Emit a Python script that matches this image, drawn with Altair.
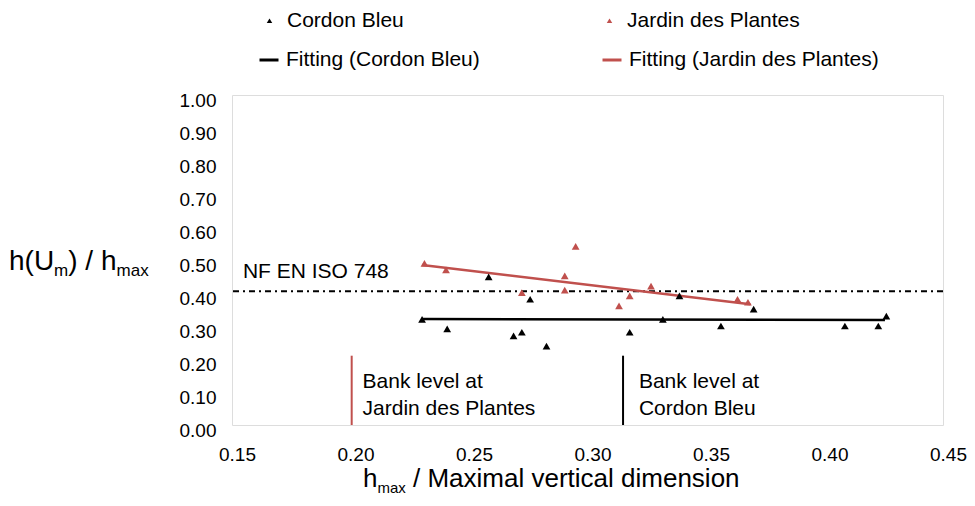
import altair as alt
import pandas as pd

# ---------------- data ----------------
cb_x = [0.2302, 0.2408, 0.2583, 0.2688, 0.2723, 0.2758, 0.2827, 0.3178,
        0.3318, 0.3388, 0.3563, 0.3701, 0.4086, 0.4227, 0.4261]
cb_y = [0.320, 0.291, 0.449, 0.270, 0.281, 0.381, 0.239, 0.281,
        0.320, 0.391, 0.300, 0.351, 0.300, 0.300, 0.330]
jp_x = [0.2312, 0.2403, 0.2723, 0.2904, 0.2904, 0.2950, 0.3133, 0.3178,
        0.3268, 0.3633, 0.3677]
jp_y = [0.490, 0.470, 0.401, 0.452, 0.409, 0.541, 0.361, 0.391,
        0.421, 0.381, 0.372]
fit_cb_x = [0.2302, 0.4255]
fit_cb_y = [0.321, 0.318]
fit_jp_x = [0.2302, 0.3687]
fit_jp_y = [0.485, 0.366]
iso_level = [0.405]
bank_jp = [0.2005]
bank_cb = [0.3150]
bank_top = [0.21]
x_ticks = [0.15, 0.20, 0.25, 0.30, 0.35, 0.40, 0.45]
y_ticks = [0.0, 0.1, 0.2, 0.3, 0.4, 0.5, 0.6, 0.7, 0.8, 0.9, 1.0]

point_names = ["Cordon Bleu", "Jardin des Plantes"]
fit_names = ["Fitting (Cordon Bleu)", "Fitting (Jardin des Plantes)"]

# ---------------- styling ----------------
FONT = "Liberation Sans, Arial, sans-serif"
RED = "#C0504D"
BLACK = "#000000"
W, H = 711, 330
PL, PT = 224, 87  # padding so plot sits at page (232, 95)

xscale = alt.Scale(domain=[0.15, 0.45], nice=False, zero=False)
yscale = alt.Scale(domain=[0.0, 1.0], nice=False, zero=False)
xaxis = alt.Axis(values=x_ticks, format=".2f", title=None, grid=False, ticks=False,
                 tickSize=0, domain=False, labelFontSize=19, labelFont=FONT,
                 labelColor="#000000", labelPadding=20, labelOffset=5,
                 labelFlush=False, labelOverlap=False)
yaxis = alt.Axis(values=y_ticks, format=".2f", title=None, grid=False, ticks=False,
                 tickSize=0, domain=False, labelFontSize=19, labelFont=FONT,
                 labelColor="#000000", labelPadding=16, labelOffset=5,
                 labelFlush=False, labelOverlap=False)

pts = pd.DataFrame({
    "x": cb_x + jp_x,
    "y": cb_y + jp_y,
    "series": [point_names[0]] * len(cb_x) + [point_names[1]] * len(jp_x),
})
fits = pd.DataFrame({
    "x": fit_cb_x + fit_jp_x,
    "y": fit_cb_y + fit_jp_y,
    "fit": [fit_names[0]] * 2 + [fit_names[1]] * 2,
})


def X(field):
    return alt.X(field, scale=xscale, axis=xaxis)


def Y(field):
    return alt.Y(field, scale=yscale, axis=yaxis)


iso = alt.Chart(pd.DataFrame({"y": iso_level})).mark_rule(
    color=BLACK, strokeWidth=2, strokeDash=[6, 4, 2, 4]
).encode(y=Y("y:Q"))

bank_red = alt.Chart(pd.DataFrame({"x": bank_jp, "y0": [0.0], "y1": bank_top})).mark_rule(
    color=RED, strokeWidth=2
).encode(x=X("x:Q"), y=Y("y0:Q"), y2="y1:Q")

bank_black = alt.Chart(pd.DataFrame({"x": bank_cb, "y0": [0.0], "y1": bank_top})).mark_rule(
    color=BLACK, strokeWidth=2
).encode(x=X("x:Q"), y=Y("y0:Q"), y2="y1:Q")

fit_lines = alt.Chart(fits).mark_line(strokeWidth=2.5).encode(
    x=X("x:Q"),
    y=Y("y:Q"),
    stroke=alt.Stroke("fit:N", scale=alt.Scale(domain=fit_names, range=[BLACK, RED]),
                      legend=alt.Legend(orient="none", legendX=26, legendY=-46,
                                        direction="horizontal", title=None,
                                        symbolType="stroke", symbolSize=361,
                                        symbolStrokeWidth=3, labelFontSize=21,
                                        labelFont=FONT, labelOffset=6,
                                        columnPadding=116, padding=0,
                                        labelLimit=400)),
)

points = alt.Chart(pts).mark_point(shape="triangle-up", filled=True, size=60, opacity=1).encode(
    x=X("x:Q"),
    y=Y("y:Q"),
    color=alt.Color("series:N", scale=alt.Scale(domain=point_names, range=[BLACK, RED]),
                    legend=alt.Legend(orient="none", legendX=27, legendY=-85,
                                      direction="horizontal", title=None,
                                      symbolType="triangle-up", symbolSize=30,
                                      labelFontSize=21, labelFont=FONT,
                                      labelOffset=7, columnPadding=195,
                                      padding=0, labelLimit=400)),
)

ann = pd.DataFrame({
    "x": [0.1546, 0.2051, 0.2051, 0.3217, 0.3217],
    "y": [0.445, 0.112, 0.030, 0.112, 0.030],
    "t": ["NF EN ISO 748", "Bank level at", "Jardin des Plantes", "Bank level at", "Cordon Bleu"],
})
annotations = alt.Chart(ann).mark_text(align="left", baseline="alphabetic", fontSize=21,
                                       font=FONT, color=BLACK).encode(
    x=X("x:Q"), y=Y("y:Q"), text="t:N")

# ---------------- axis titles with subscripts ----------------
CW = {'h': .556, '(': .333, 'U': .722, ')': .333, ' ': .278, '/': .278, 'm': .833,
      'a': .556, 'x': .5, 'M': .833, 'i': .222, 'l': .222, 'v': .5, 'e': .556,
      'r': .333, 't': .278, 'c': .5, 'd': .556, 'n': .556, 's': .5, 'o': .556}


def tw(s, size):
    return sum(CW.get(c, .556) for c in s) * size


def rich(pieces, x0, base):
    layers = []
    cur = x0
    for txt, size, dy in pieces:
        lead = len(txt) - len(txt.lstrip(" "))
        xd = cur + tw(" " * lead, size)
        layers.append(
            alt.Chart(pd.DataFrame({"t": [txt.strip()]})).mark_text(
                align="left", baseline="alphabetic", fontSize=size, font=FONT, color=BLACK
            ).encode(text="t:N", x=alt.value(xd - 232), y=alt.value(base + dy - 95))
        )
        cur += tw(txt, size)
    return layers


ytitle = rich([("h(U", 28, 0), ("m", 17, 6), (") / h", 28, 0), ("max", 17, 6)], 9, 270)
xtitle = rich([("h", 26, 0), ("max", 15, 6), (" / Maximal vertical dimension", 26, 0)], 363, 487)

chart = alt.layer(
    iso, bank_red, bank_black, fit_lines, points, annotations, *ytitle, *xtitle
).resolve_scale(color="independent", stroke="independent").properties(
    width=W, height=H,
    autosize=alt.AutoSizeParams(type="none"),
    padding={"left": PL, "top": PT, "right": 24, "bottom": 73},
).configure_axis(
    labelOverlap=False, labelFlush=False
).configure_view(
    stroke="#BFBFBF", strokeWidth=1.5
).configure(background="white")

chart.save("out.html", embed_options={"renderer": "svg", "actions": False})
